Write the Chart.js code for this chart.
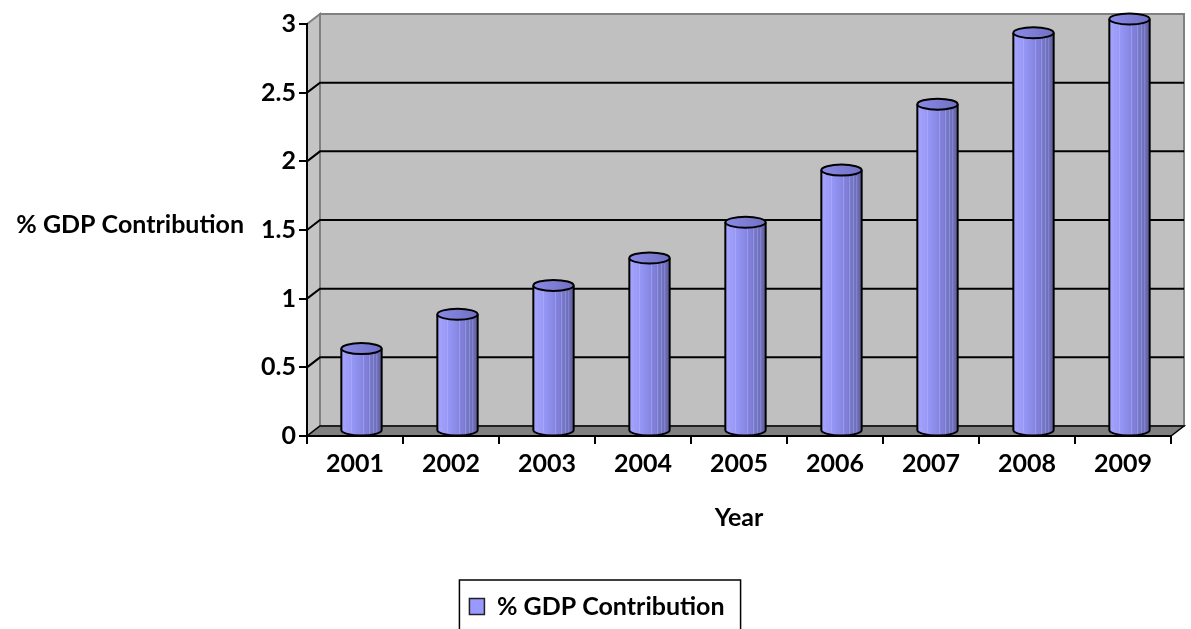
<!DOCTYPE html>
<html>
<head>
<meta charset="utf-8">
<title>% GDP Contribution</title>
<script src="https://cdn.jsdelivr.net/npm/chart.js@4.4.1/dist/chart.umd.min.js"></script>
<style>
  html, body { margin: 0; padding: 0; background: #fff; overflow: hidden; }
  #wrap { position: relative; width: 1191px; height: 629px; }
</style>
</head>
<body>
<div id="wrap"><canvas id="gdpChart"></canvas></div>
<script>
// data
const years = ["2001", "2002", "2003", "2004", "2005", "2006", "2007", "2008", "2009"];
const gdpShare = [0.6, 0.85, 1.06, 1.26, 1.52, 1.9, 2.38, 2.9, 3.0];
const seriesLabel = "% GDP Contribution";
const xTitle = "Year";
const yTitle = "% GDP Contribution";

const DEPTH_X = 13;
const DEPTH_Y = -10;
const FONT = "Lato";

// back wall, side wall, floor and the gridlines on the wall
const boxPlugin = {
  id: "box3d",
  beforeDraw(chart) {
    const { ctx, chartArea: a, scales } = chart;
    const yScale = scales.y;
    const top = yScale.getPixelForValue(yScale.max);
    const base = yScale.getPixelForValue(0);
    ctx.save();
    ctx.lineJoin = "miter";

    // side wall
    ctx.beginPath();
    ctx.moveTo(a.left, top);
    ctx.lineTo(a.left + DEPTH_X, top + DEPTH_Y);
    ctx.lineTo(a.left + DEPTH_X, base + DEPTH_Y);
    ctx.lineTo(a.left, base);
    ctx.closePath();
    ctx.fillStyle = "#c4c4c4";
    ctx.fill();
    ctx.strokeStyle = "#808080";
    ctx.lineWidth = 2;
    ctx.stroke();

    // back wall
    ctx.fillStyle = "#c0c0c0";
    ctx.fillRect(a.left + DEPTH_X, top + DEPTH_Y, a.right - a.left, base - top);
    ctx.strokeRect(a.left + DEPTH_X, top + DEPTH_Y, a.right - a.left, base - top);

    // gridlines
    ctx.strokeStyle = "#000";
    ctx.lineWidth = 2;
    yScale.ticks.forEach((t) => {
      if (t.value <= 0 || t.value >= yScale.max) return;
      const y = yScale.getPixelForValue(t.value);
      ctx.beginPath();
      ctx.moveTo(a.left, y);
      ctx.lineTo(a.left + DEPTH_X, y + DEPTH_Y);
      ctx.lineTo(a.right + DEPTH_X, y + DEPTH_Y);
      ctx.stroke();
    });

    // floor
    ctx.beginPath();
    ctx.moveTo(a.left, base);
    ctx.lineTo(a.left + DEPTH_X, base + DEPTH_Y);
    ctx.lineTo(a.right + DEPTH_X, base + DEPTH_Y);
    ctx.lineTo(a.right, base);
    ctx.closePath();
    ctx.fillStyle = "#808080";
    ctx.fill();
    ctx.strokeStyle = "#000";
    ctx.lineWidth = 1.5;
    ctx.stroke();

    // horizontal y axis title
    ctx.fillStyle = "#000";
    ctx.font = `bold 25px ${FONT}`;
    ctx.textAlign = "right";
    ctx.textBaseline = "middle";
    ctx.fillText(yTitle, 244, yScale.getPixelForValue(1.5) - 5);
    ctx.restore();
  },
  // cylinders instead of flat bars
  beforeDatasetsDraw(chart) {
    const { ctx } = chart;
    const meta = chart.getDatasetMeta(0);
    ctx.save();
    meta.data.forEach((bar) => {
      const rx = bar.width / 2;
      const ry = 5.5;
      const cx = bar.x + DEPTH_X / 2;
      const top = bar.y + DEPTH_Y / 2;
      const bottom = bar.base + DEPTH_Y / 2;

      const grad = ctx.createLinearGradient(cx - rx, 0, cx + rx, 0);
      grad.addColorStop(0, "#a6a6ff");
      grad.addColorStop(0.3, "#9494f4");
      grad.addColorStop(0.65, "#7e7ed8");
      grad.addColorStop(1, "#6262a6");

      ctx.beginPath();
      ctx.moveTo(cx - rx, top);
      ctx.lineTo(cx - rx, bottom);
      ctx.ellipse(cx, bottom, rx, ry, 0, Math.PI, 0, true);
      ctx.lineTo(cx + rx, top);
      ctx.ellipse(cx, top, rx, ry, 0, 0, Math.PI, false);
      ctx.closePath();
      ctx.fillStyle = grad;
      ctx.fill();

      // faint vertical shading lines
      ctx.strokeStyle = "rgba(200,200,255,0.35)";
      ctx.lineWidth = 1;
      [0.25, 0.55, 0.7, 0.8, 0.88].forEach((f) => {
        const x = cx - rx + f * 2 * rx;
        ctx.beginPath();
        ctx.moveTo(x, top + ry);
        ctx.lineTo(x, bottom + ry * 0.8);
        ctx.stroke();
      });

      ctx.beginPath();
      ctx.moveTo(cx - rx, top);
      ctx.lineTo(cx - rx, bottom);
      ctx.ellipse(cx, bottom, rx, ry, 0, Math.PI, 0, true);
      ctx.lineTo(cx + rx, top);
      ctx.strokeStyle = "#000";
      ctx.lineWidth = 2;
      ctx.stroke();

      const capGrad = ctx.createLinearGradient(cx - rx, 0, cx + rx, 0);
      capGrad.addColorStop(0, "#8a8ae6");
      capGrad.addColorStop(1, "#7070c4");
      ctx.beginPath();
      ctx.ellipse(cx, top, rx, ry, 0, 0, Math.PI * 2);
      ctx.fillStyle = capGrad;
      ctx.fill();
      ctx.stroke();
    });
    ctx.restore();
    return false;
  },
  afterDraw(chart) {
    const legend = chart.legend;
    if (!legend || !legend.legendHitBoxes.length) return;
    const hb = legend.legendHitBoxes[0];
    const { ctx } = chart;
    ctx.save();
    ctx.strokeStyle = "#000";
    ctx.lineWidth = 1.5;
    ctx.strokeRect(hb.left - 10, hb.top - 14, hb.width + 26, 80);
    ctx.restore();
  },
};

const ctx = document.getElementById("gdpChart").getContext("2d");
new Chart(ctx, {
  type: "bar",
  data: {
    labels: years,
    datasets: [
      {
        label: seriesLabel,
        data: gdpShare,
        backgroundColor: "#9999ff",
        borderColor: "#222",
        borderWidth: 1.5,
        categoryPercentage: 1,
        barPercentage: 0.42,
      },
    ],
  },
  options: {
    responsive: true,
    maintainAspectRatio: false,
    animation: false,
    layout: { padding: { top: 24, right: 20, left: 23, bottom: 0 } },
    scales: {
      x: {
        grid: {
          offset: true,
          drawOnChartArea: false,
          drawTicks: true,
          tickLength: 8,
          color: "#000",
          lineWidth: 2,
        },
        border: { display: true, color: "#000", width: 2 },
        ticks: {
          color: "#000",
          padding: 5,
          maxRotation: 0,
          font: { family: FONT, size: 25, weight: "bold" },
        },
        title: {
          display: true,
          text: xTitle,
          color: "#000",
          font: { family: FONT, size: 25, weight: "bold" },
          padding: { top: 0, bottom: 51 },
        },
        afterFit(scale) {
          scale.height = 148;
        },
      },
      y: {
        min: 0,
        max: 3,
        ticks: {
          stepSize: 0.5,
          color: "#000",
          padding: 3,
          callback: (v) => String(v),
          font: { family: FONT, size: 25, weight: "bold" },
        },
        grid: {
          drawOnChartArea: false,
          drawTicks: true,
          tickLength: 8,
          color: "#000",
          lineWidth: 2,
        },
        border: { display: true, color: "#000", width: 2 },
        afterFit(scale) {
          scale.width = 284;
        },
      },
    },
    plugins: {
      legend: {
        position: "bottom",
        labels: {
          color: "#000",
          boxWidth: 15,
          boxHeight: 16,
          padding: 10,
          font: { family: FONT, size: 25, weight: "bold" },
        },
      },
      tooltip: { enabled: false },
    },
  },
  plugins: [boxPlugin],
});
</script>
</body>
</html>
